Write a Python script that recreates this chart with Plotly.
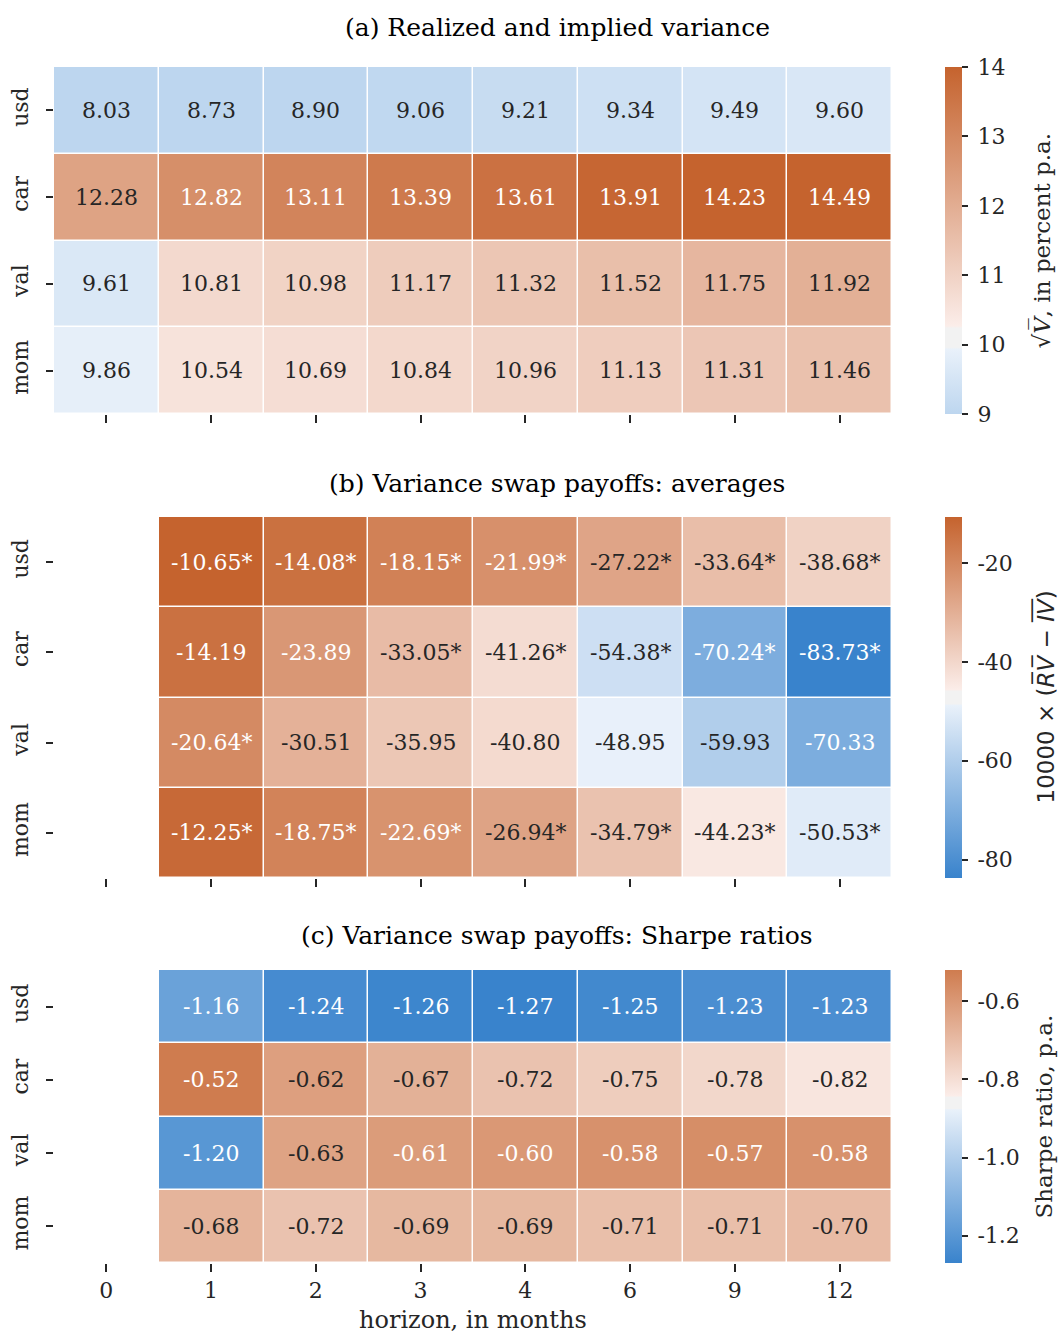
import plotly.graph_objects as go

# ---- data -------------------------------------------------------------
horizons = ["0", "1", "2", "3", "4", "6", "9", "12"]
portfolios = ["usd", "car", "val", "mom"]

# (a) realized and implied volatility, percent p.a.
vol_usd = [8.03, 8.73, 8.90, 9.06, 9.21, 9.34, 9.49, 9.60]
vol_car = [12.28, 12.82, 13.11, 13.39, 13.61, 13.91, 14.23, 14.49]
vol_val = [9.61, 10.81, 10.98, 11.17, 11.32, 11.52, 11.75, 11.92]
vol_mom = [9.86, 10.54, 10.69, 10.84, 10.96, 11.13, 11.31, 11.46]

# (b) average variance swap payoffs (x 10000); no value at horizon 0
avg_usd = [None, -10.65, -14.08, -18.15, -21.99, -27.22, -33.64, -38.68]
avg_car = [None, -14.19, -23.89, -33.05, -41.26, -54.38, -70.24, -83.73]
avg_val = [None, -20.64, -30.51, -35.95, -40.80, -48.95, -59.93, -70.33]
avg_mom = [None, -12.25, -18.75, -22.69, -26.94, -34.79, -44.23, -50.53]
# significance flags for the averages
sig_usd = [0, 1, 1, 1, 1, 1, 1, 1]
sig_car = [0, 0, 0, 1, 1, 1, 1, 1]
sig_val = [0, 1, 0, 0, 0, 0, 0, 0]
sig_mom = [0, 1, 1, 1, 1, 1, 1, 1]

# (c) Sharpe ratios of variance swap payoffs, p.a.
sr_usd = [None, -1.16, -1.24, -1.26, -1.27, -1.25, -1.23, -1.23]
sr_car = [None, -0.52, -0.62, -0.67, -0.72, -0.75, -0.78, -0.82]
sr_val = [None, -1.20, -0.63, -0.61, -0.60, -0.58, -0.57, -0.58]
sr_mom = [None, -0.68, -0.72, -0.69, -0.69, -0.71, -0.71, -0.70]

vol_ticks = [9, 10, 11, 12, 13, 14]
avg_ticks = [-20, -40, -60, -80]
sr_ticks = [-0.6, -0.8, -1.0, -1.2]

# ---- diverging blue / orange palette with a light grey centre ----------
BLUE = (57, 131, 204)
LIGHT_BLUE = (233, 241, 250)
MID = (242, 242, 242)
LIGHT_ORANGE = (251, 237, 233)
ORANGE = (197, 99, 46)
ANCHORS = [(0.0, BLUE), (122 / 255, LIGHT_BLUE), (123 / 255, MID),
           (132 / 255, MID), (133 / 255, LIGHT_ORANGE), (1.0, ORANGE)]


def palette(t):
    t = min(max(t, 0.0), 1.0)
    for (p0, c0), (p1, c1) in zip(ANCHORS[:-1], ANCHORS[1:]):
        if t <= p1:
            f = 0.0 if p1 == p0 else (t - p0) / (p1 - p0)
            return tuple(a + f * (b - a) for a, b in zip(c0, c1))
    return ANCHORS[-1][1]


def rgb(c):
    return "rgb({:.0f},{:.0f},{:.0f})".format(*c)


def colorscale(lo, hi):
    pts = [lo] + [p for p, _ in ANCHORS if lo < p < hi] + [hi]
    return [[(p - lo) / (hi - lo), rgb(palette(p))] for p in pts]


def luminance(c):
    lin = []
    for v in c:
        v = v / 255
        lin.append(v / 12.92 if v <= 0.03928 else ((v + 0.055) / 1.055) ** 2.4)
    return 0.2126 * lin[0] + 0.7152 * lin[1] + 0.0722 * lin[2]


def text_colour(c):
    return "#262626" if luminance(c) > 0.408 else "white"


def norm_centered(vmin, vmax, center):
    """Palette window for a colour range centred on `center`."""
    vr = max(vmax - center, center - vmin)
    lo_v, hi_v = center - vr, center + vr
    return ((vmin - lo_v) / (hi_v - lo_v), (vmax - lo_v) / (hi_v - lo_v))


# ---- figure geometry --------------------------------------------------
W, H = 1059, 1333
FONT = "DejaVu Serif"
DARK = "#262626"


def py(px):
    return 1 - px / H


x_dom = [54 / W, 892 / W]
panels = [
    dict(z=[vol_usd, vol_car, vol_val, vol_mom], stars=None, fmt="{:.2f}",
         vmin=9, vmax=14, center=10.1, ticks=vol_ticks, tfmt="{:d}",
         cbtitle="\u221a<i>V\u0305</i>, in percent p.a.", cbfont=FONT, cbx=1041,
         top=67, bottom=414, title="(a) Realized and implied variance",
         title_y=28),
    dict(z=[avg_usd, avg_car, avg_val, avg_mom],
         stars=[sig_usd, sig_car, sig_val, sig_mom], fmt="{:.2f}",
         vmin=None, vmax=None, center=None, ticks=avg_ticks, tfmt="{:d}",
         cbtitle="10000 \u00d7 (<i>R\u0305V\u0305</i> \u2212 <i>I\u0305V\u0305</i>)",
         cbfont="DejaVu Sans", cbx=1045,
         top=517, bottom=878, title="(b) Variance swap payoffs: averages",
         title_y=483),
    dict(z=[sr_usd, sr_car, sr_val, sr_mom], stars=None, fmt="{:.2f}",
         vmin=None, vmax=None, center=-0.86, ticks=sr_ticks, tfmt="{:.1f}",
         cbtitle="Sharpe ratio, p.a.", cbfont=FONT, cbx=1043,
         top=970, bottom=1263, title="(c) Variance swap payoffs: Sharpe ratios",
         title_y=935),
]

fig = go.Figure()
annotations = []

for i, p in enumerate(panels, start=1):
    vals = [v for row in p["z"] for v in row if v is not None]
    vmin = p["vmin"] if p["vmin"] is not None else min(vals)
    vmax = p["vmax"] if p["vmax"] is not None else max(vals)
    center = p["center"] if p["center"] is not None else (vmin + vmax) / 2
    lo, hi = norm_centered(vmin, vmax, center)

    xa = "x" if i == 1 else f"x{i}"
    ya = "y" if i == 1 else f"y{i}"
    mid_px = (p["top"] + p["bottom"]) / 2

    fig.add_trace(go.Heatmap(
        z=p["z"], x=horizons, y=portfolios, xaxis=xa, yaxis=ya,
        zmin=vmin, zmax=vmax, colorscale=colorscale(lo, hi),
        xgap=1.5, ygap=1.5, hoverongaps=False,
        colorbar=dict(
            x=945 / W, xanchor="left", xpad=0, ypad=0,
            y=py(mid_px), yanchor="middle",
            len=(p["bottom"] - p["top"]) / H, lenmode="fraction",
            thickness=17, thicknessmode="pixels", outlinewidth=0,
            ticks="outside", ticklen=6, tickwidth=1.5, tickcolor=DARK,
            tickvals=p["ticks"],
            ticktext=["\u2005" + p["tfmt"].format(t) for t in p["ticks"]],
            tickfont=dict(family=FONT, size=22, color=DARK),
        ),
    ))

    # colour bar label
    annotations.append(dict(
        x=p["cbx"] / W, y=py(mid_px), xref="paper", yref="paper",
        text=p["cbtitle"], showarrow=False, textangle=-90,
        xanchor="center", yanchor="middle",
        font=dict(family=p["cbfont"], size=23, color=DARK)))

    # cell labels
    for r, row in enumerate(p["z"]):
        for c, v in enumerate(row):
            if v is None:
                continue
            t = (min(max(v, vmin), vmax) - vmin) / (vmax - vmin)
            col = palette(lo + t * (hi - lo))
            label = p["fmt"].format(v)
            if p["stars"] is not None and p["stars"][r][c]:
                label += "*"
            annotations.append(dict(
                x=c, y=r, xref=xa, yref=ya,
                text=label, showarrow=False,
                font=dict(family=FONT, size=22, color=text_colour(col))))

    # panel title
    annotations.append(dict(
        x=557 / W, y=py(p["title_y"]), xref="paper", yref="paper",
        text=p["title"], showarrow=False, xanchor="center", yanchor="middle",
        font=dict(family=FONT, size=25, color="black")))

    axis_common = dict(showgrid=False, zeroline=False, showline=False,
                       ticks="outside", tickwidth=1.5, tickcolor=DARK)
    fig.update_layout({
        ("xaxis" if i == 1 else f"xaxis{i}"): dict(
            axis_common, domain=x_dom, anchor=ya, type="category",
            range=[-0.5, 7.5], ticklen=8, showticklabels=(i == 3),
            tickfont=dict(family=FONT, size=22, color=DARK)),
        ("yaxis" if i == 1 else f"yaxis{i}"): dict(
            axis_common, domain=[py(p["bottom"]), py(p["top"])], anchor=xa,
            type="category", autorange="reversed", ticklen=7, tickangle=-90,
            ticklabelstandoff=9,
            tickfont=dict(family=FONT, size=22, color=DARK)),
    })

annotations.append(dict(
    x=(x_dom[0] + x_dom[1]) / 2, y=py(1320), xref="paper", yref="paper",
    text="horizon, in months", showarrow=False, xanchor="center",
    yanchor="middle", font=dict(family=FONT, size=24, color=DARK)))

fig.update_layout(
    width=W, height=H, margin=dict(l=0, r=0, t=0, b=0),
    paper_bgcolor="white", plot_bgcolor="white",
    annotations=annotations, showlegend=False,
)

fig.write_html("out.html")
